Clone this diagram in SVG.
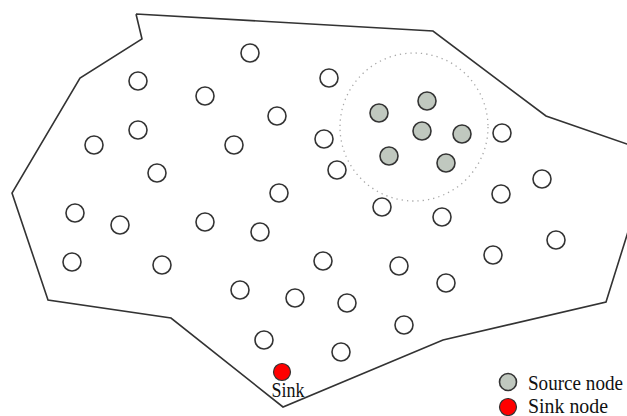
<svg xmlns="http://www.w3.org/2000/svg" width="627" height="416" viewBox="0 0 627 416">
<style>
.n{fill:#fff;stroke:#333;stroke-width:1.6}
.s{fill:#c0c8bf;stroke:#333;stroke-width:1.6}
.k{fill:#f00;stroke:#333;stroke-width:1.2}
.t{font-family:"Liberation Serif","Times New Roman",serif;font-size:19px;fill:#111}
</style>
<rect width="627" height="416" fill="#fff"/>
<g id="field">
<polyline points="136,14 433,31 546,116 627,144 650,152 650,162 627,235 606,302 443,340 283,407 171,318 48,300 12,193 80,78 142,39 136,14" fill="none" stroke="#333" stroke-width="1.6" stroke-linejoin="miter"/>
<circle cx="414" cy="127" r="74" fill="none" stroke="#a8a8a8" stroke-width="1.3" stroke-dasharray="1.3 4"/>
</g>
<g id="connectors"></g>
<g id="nodes">
<circle class="n" cx="250" cy="53" r="9"/>
<circle class="n" cx="138" cy="81" r="9"/>
<circle class="n" cx="205" cy="96" r="9"/>
<circle class="n" cx="329" cy="78" r="9"/>
<circle class="n" cx="277" cy="116" r="9"/>
<circle class="n" cx="138" cy="130" r="9"/>
<circle class="n" cx="94" cy="145" r="9"/>
<circle class="n" cx="234" cy="145" r="9"/>
<circle class="n" cx="324" cy="139" r="9"/>
<circle class="n" cx="157" cy="173" r="9"/>
<circle class="n" cx="337" cy="170" r="9"/>
<circle class="n" cx="279" cy="193" r="9"/>
<circle class="n" cx="75" cy="213" r="9"/>
<circle class="n" cx="120" cy="225" r="9"/>
<circle class="n" cx="205" cy="222" r="9"/>
<circle class="n" cx="260" cy="232" r="9"/>
<circle class="n" cx="72" cy="262" r="9"/>
<circle class="n" cx="162" cy="265" r="9"/>
<circle class="n" cx="240" cy="290" r="9"/>
<circle class="n" cx="295" cy="298" r="9"/>
<circle class="n" cx="264" cy="340" r="9"/>
<circle class="n" cx="502" cy="133" r="9"/>
<circle class="n" cx="382" cy="207" r="9"/>
<circle class="n" cx="442" cy="217" r="9"/>
<circle class="n" cx="501" cy="194" r="9"/>
<circle class="n" cx="542" cy="179" r="9"/>
<circle class="n" cx="556" cy="240" r="9"/>
<circle class="n" cx="493" cy="255" r="9"/>
<circle class="n" cx="399" cy="266" r="9"/>
<circle class="n" cx="446" cy="283" r="9"/>
<circle class="n" cx="323" cy="261" r="9"/>
<circle class="n" cx="347" cy="303" r="9"/>
<circle class="n" cx="404" cy="325" r="9"/>
<circle class="n" cx="341" cy="352" r="9"/>
</g>
<g id="sources">
<circle class="s" cx="379" cy="113" r="9"/>
<circle class="s" cx="427" cy="101" r="9"/>
<circle class="s" cx="422" cy="131" r="9"/>
<circle class="s" cx="462" cy="134" r="9"/>
<circle class="s" cx="389" cy="156" r="9"/>
<circle class="s" cx="446" cy="163" r="9"/>
</g>
<g id="sink">
<circle class="k" cx="282" cy="372" r="8.5"/>
<text class="t" x="288" y="397" text-anchor="middle" transform="translate(0,-59.55) scale(1,1.15)" textLength="33" lengthAdjust="spacingAndGlyphs">Sink</text>
</g>
<g id="legend">
<circle class="s" cx="508" cy="382" r="8.5"/>
<text class="t" x="528" y="390" transform="translate(0,-58.5) scale(1,1.15)" textLength="95" lengthAdjust="spacingAndGlyphs">Source node</text>
<circle class="k" cx="508" cy="407" r="8.5"/>
<text class="t" x="528" y="413" transform="translate(0,-61.95) scale(1,1.15)" textLength="80" lengthAdjust="spacingAndGlyphs">Sink node</text>
</g>
</svg>
